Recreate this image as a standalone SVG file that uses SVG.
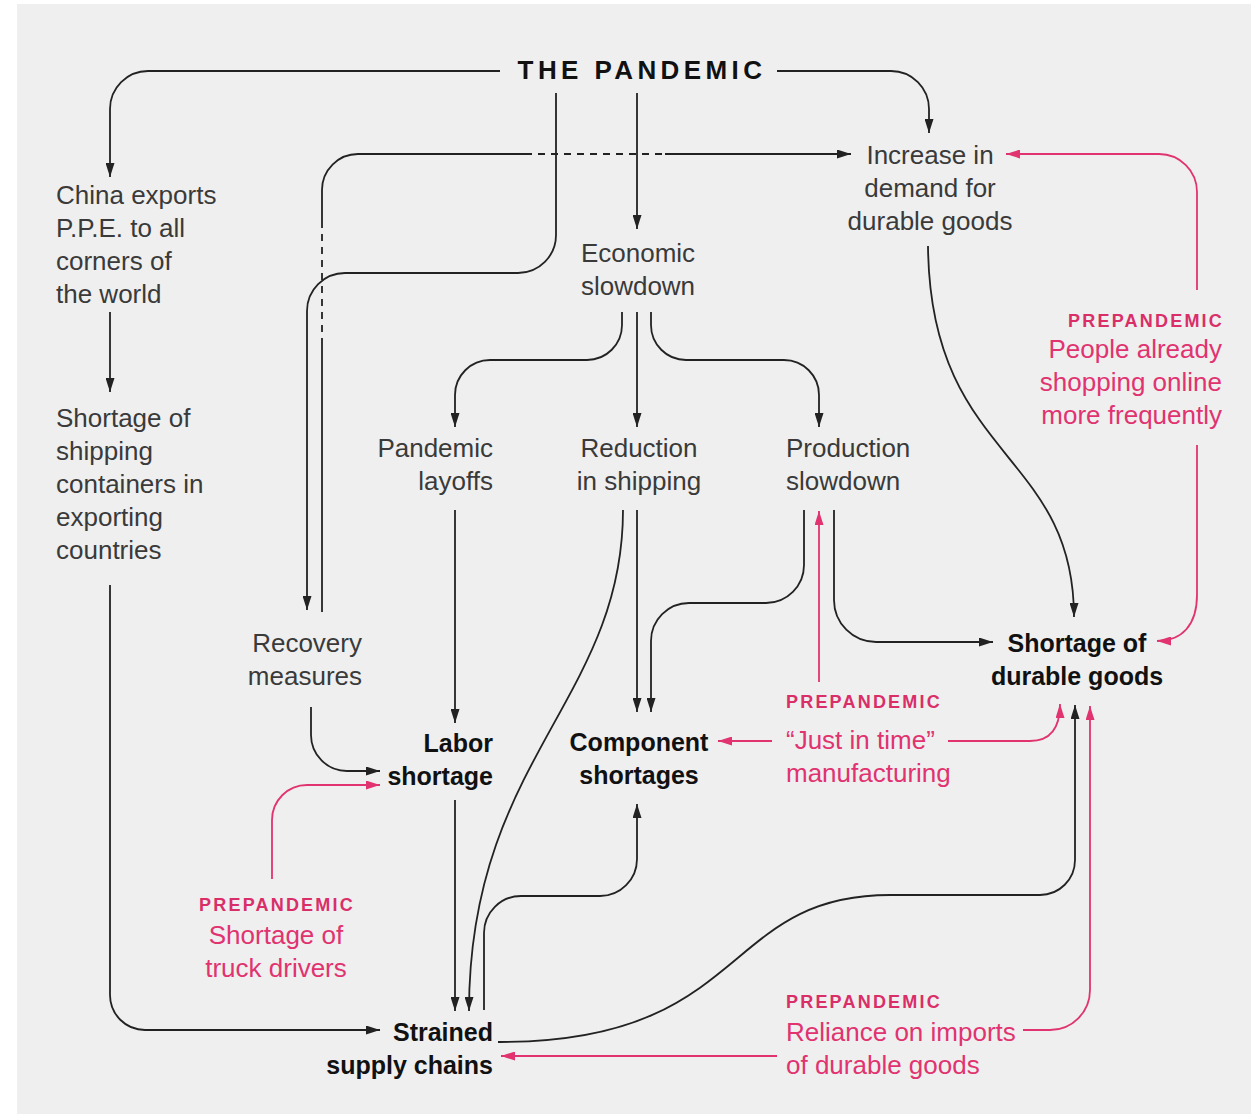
<svg xmlns="http://www.w3.org/2000/svg" width="1251" height="1114" viewBox="0 0 1251 1114">
<style>
text{font-family:"Liberation Sans",Arial,sans-serif;font-size:26px;fill:#3a3a3a}
.b{font-weight:bold;font-size:25px;fill:#111}
.t{font-weight:bold;font-size:26px;letter-spacing:4.4px;fill:#111}
.pk{fill:#e0336f}
.pl{font-weight:bold;font-size:18px;letter-spacing:2.2px;fill:#d92e68}
.k{fill:none;stroke:#222;stroke-width:1.8}
.p{fill:none;stroke:#e0336f;stroke-width:1.8}
.ka{marker-end:url(#ak)}
.pa{marker-end:url(#ap)}
.d{stroke-dasharray:7 6}
.m{text-anchor:middle}
.e{text-anchor:end}
</style>
<defs>
<marker id="ak" viewBox="0 0 14 9" refX="14" refY="4.5" markerWidth="14" markerHeight="9" markerUnits="userSpaceOnUse" orient="auto"><path d="M0,0 L14,4.5 L0,9 Z" fill="#222"/></marker>
<marker id="ap" viewBox="0 0 14 9" refX="14" refY="4.5" markerWidth="14" markerHeight="9" markerUnits="userSpaceOnUse" orient="auto"><path d="M0,0 L14,4.5 L0,9 Z" fill="#e0336f"/></marker>
</defs>
<rect x="17" y="4" width="1234" height="1110" fill="#efefef"/>
<g id="connectors">
<path class="k ka" d="M500,71 H148 A38,38 0 0 0 110,109 V177"/>
<path class="k ka" d="M777,71 H891 A38,38 0 0 1 929,109 V133"/>
<path class="k ka" d="M556,93 V235 A38,38 0 0 1 518,273 H345 A38,38 0 0 0 307,311 V610"/>
<path class="k" d="M322,612 V345"/>
<path class="k d" d="M322,345 V222"/>
<path class="k" d="M322,222 V190 A36,36 0 0 1 358,154 H525"/>
<path class="k d" d="M525,154 H665"/>
<path class="k ka" d="M665,154 H851"/>
<path class="k ka" d="M637,93 V229"/>
<path class="k ka" d="M622,312 V325 A35,35 0 0 1 587,360 H490 A35,35 0 0 0 455,395 V427"/>
<path class="k ka" d="M637,312 V427"/>
<path class="k ka" d="M651,312 V325 A35,35 0 0 0 686,360 H784 A35,35 0 0 1 819,395 V427"/>
<path class="k ka" d="M455,510 V723"/>
<path class="k ka" d="M455,800 V1011"/>
<path class="k ka" d="M637,510 V712"/>
<path class="k ka" d="M623,510 C623,700 469,760 469,1011"/>
<path class="k ka" d="M484,1010 V933 A37,37 0 0 1 521,896 H600 A37,37 0 0 0 637,859 V804"/>
<path class="k ka" d="M804,510 V565 A38,38 0 0 1 766,603 H689 A38,38 0 0 0 651,641 V712"/>
<path class="k ka" d="M834,510 V600 A42,42 0 0 0 876,642 H993"/>
<path class="k ka" d="M928,246 C930,460 1074,450 1074,617"/>
<path class="k ka" d="M110,312 V392"/>
<path class="k ka" d="M110,585 V995 A35,35 0 0 0 145,1030 H380"/>
<path class="k ka" d="M311,707 V735 A36,36 0 0 0 347,771 H380"/>
<path class="k ka" d="M498,1042 H500 C750,1042 720,895 890,895 H1040 A35,35 0 0 0 1075,860 V705"/>
<path class="p pa" d="M1197,290 V192 A38,38 0 0 0 1159,154 H1006"/>
<path class="p pa" d="M1197,445 V595 C1197,625 1182,641 1157,641"/>
<path class="p pa" d="M819,682 V511"/>
<path class="p pa" d="M772,741 H718"/>
<path class="p pa" d="M948,741 H1030 C1050,741 1060,728 1060,704"/>
<path class="p pa" d="M272,879 V820 A35,35 0 0 1 307,785 H380"/>
<path class="p pa" d="M1023,1030 H1050 A40,40 0 0 0 1090,990 V706"/>
<path class="p pa" d="M777,1056 H501"/>
</g>
<g id="pandemic"><text class="t m" x="642" y="79">THE PANDEMIC</text></g>
<g id="china"><text x="56" y="204">China exports</text><text x="56" y="237">P.P.E. to all</text><text x="56" y="270">corners of</text><text x="56" y="303">the world</text></g>
<g id="containers"><text x="56" y="427">Shortage of</text><text x="56" y="460">shipping</text><text x="56" y="493">containers in</text><text x="56" y="526">exporting</text><text x="56" y="559">countries</text></g>
<g id="demand"><text class="m" x="930" y="164">Increase in</text><text class="m" x="930" y="197">demand for</text><text class="m" x="930" y="230">durable goods</text></g>
<g id="slowdown"><text class="m" x="638" y="262">Economic</text><text class="m" x="638" y="295">slowdown</text></g>
<g id="layoffs"><text class="e" x="493" y="457">Pandemic</text><text class="e" x="493" y="490">layoffs</text></g>
<g id="shipping"><text class="m" x="639" y="457">Reduction</text><text class="m" x="639" y="490">in shipping</text></g>
<g id="production"><text x="786" y="457">Production</text><text x="786" y="490">slowdown</text></g>
<g id="recovery"><text class="e" x="362" y="652">Recovery</text><text class="e" x="362" y="685">measures</text></g>
<g id="labor"><text class="b e" x="493" y="752">Labor</text><text class="b e" x="493" y="785">shortage</text></g>
<g id="component"><text class="b m" x="639" y="751">Component</text><text class="b m" x="639" y="784">shortages</text></g>
<g id="durable"><text class="b m" x="1077" y="652">Shortage of</text><text class="b m" x="1077" y="685">durable goods</text></g>
<g id="strained"><text class="b e" x="493" y="1041">Strained</text><text class="b e" x="493" y="1074">supply chains</text></g>
<g id="online"><text class="pl e" x="1224" y="327">PREPANDEMIC</text><text class="pk e" x="1222" y="358">People already</text><text class="pk e" x="1222" y="391">shopping online</text><text class="pk e" x="1222" y="424">more frequently</text></g>
<g id="jit"><text class="pl" x="786" y="708">PREPANDEMIC</text><text class="pk" x="786" y="749">“Just in time”</text><text class="pk" x="786" y="782">manufacturing</text></g>
<g id="truck"><text class="pl m" x="277" y="911">PREPANDEMIC</text><text class="pk m" x="276" y="944">Shortage of</text><text class="pk m" x="276" y="977">truck drivers</text></g>
<g id="imports"><text class="pl" x="786" y="1008">PREPANDEMIC</text><text class="pk" x="786" y="1041">Reliance on imports</text><text class="pk" x="786" y="1074">of durable goods</text></g>
</svg>
